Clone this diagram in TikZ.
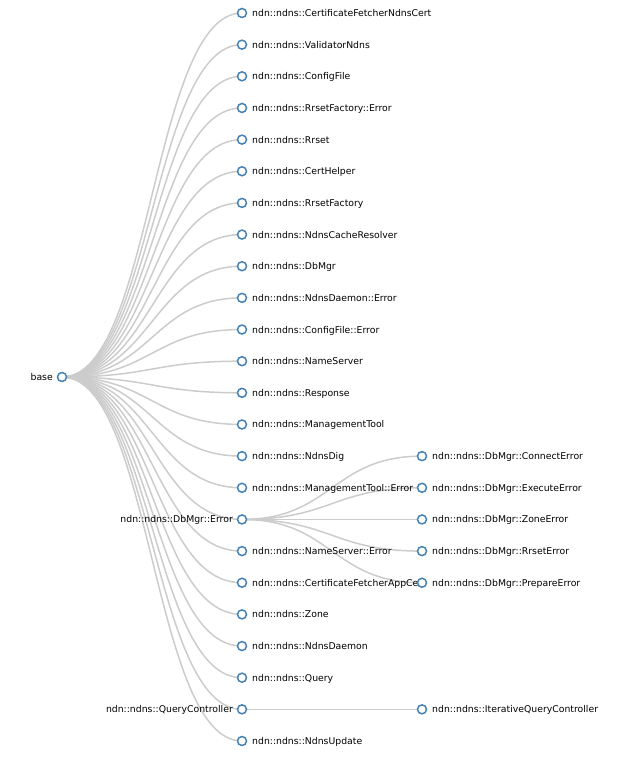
\documentclass[tikz,border=0pt]{standalone}
\usepackage{fontspec}
\setmainfont{DejaVu Sans}
\usetikzlibrary{calc,backgrounds}
\definecolor{steel}{RGB}{70,130,180}
\definecolor{linkgray}{RGB}{204,204,204}
\tikzset{
  dot/.style={circle, draw=steel, fill=white, line width=1.5pt, minimum size=9pt, inner sep=0pt},
  lbl/.style={inner sep=0pt, font=\fontsize{9.3}{11}\selectfont, text=black},
  linkstyle/.style={draw=linkgray, line width=1.5pt}
}
\newcommand\tlink[2]{\draw[linkstyle] let \p1=(#1.center), \p2=(#2.center) in (\p1) .. controls ({(\x1+\x2)/2},\y1) and ({(\x1+\x2)/2},\y2) .. (\p2);}
\newcommand\rnode[4]{\node[dot] (#1) at (#2,#3) {}; \node[lbl, anchor=base west] (#1t) at ($(#1.center)+(10,3.5)$) {#4};}
\newcommand\lnode[4]{\node[dot] (#1) at (#2,#3) {}; \node[lbl, anchor=base east] (#1t) at ($(#1.center)+(-9,3.5)$) {#4};}
\begin{document}
\begin{tikzpicture}[x=1pt, y=-1pt]
\useasboundingbox (0,0) rectangle (643,765);
% nodes
\lnode{nb}{62}{377}{base}
\rnode{n0}{242}{13}{ndn::ndns::CertificateFetcherNdnsCert}
\rnode{n1}{242}{44.652}{ndn::ndns::ValidatorNdns}
\rnode{n2}{242}{76.304}{ndn::ndns::ConfigFile}
\rnode{n3}{242}{107.956}{ndn::ndns::RrsetFactory::Error}
\rnode{n4}{242}{139.608}{ndn::ndns::Rrset}
\rnode{n5}{242}{171.26}{ndn::ndns::CertHelper}
\rnode{n6}{242}{202.912}{ndn::ndns::RrsetFactory}
\rnode{n7}{242}{234.564}{ndn::ndns::NdnsCacheResolver}
\rnode{n8}{242}{266.216}{ndn::ndns::DbMgr}
\rnode{n9}{242}{297.868}{ndn::ndns::NdnsDaemon::Error}
\rnode{n10}{242}{329.52}{ndn::ndns::ConfigFile::Error}
\rnode{n11}{242}{361.172}{ndn::ndns::NameServer}
\rnode{n12}{242}{392.824}{ndn::ndns::Response}
\rnode{n13}{242}{424.476}{ndn::ndns::ManagementTool}
\rnode{n14}{242}{456.128}{ndn::ndns::NdnsDig}
\rnode{n15}{242}{487.78}{ndn::ndns::ManagementTool::Error}
\lnode{n16}{242}{519.432}{ndn::ndns::DbMgr::Error}
\rnode{n17}{242}{551.084}{ndn::ndns::NameServer::Error}
\rnode{n18}{242}{582.736}{ndn::ndns::CertificateFetcherAppCert}
\rnode{n19}{242}{614.388}{ndn::ndns::Zone}
\rnode{n20}{242}{646.04}{ndn::ndns::NdnsDaemon}
\rnode{n21}{242}{677.692}{ndn::ndns::Query}
\lnode{n22}{242}{709.344}{ndn::ndns::QueryController}
\rnode{n23}{242}{740.996}{ndn::ndns::NdnsUpdate}
\rnode{m0}{422}{456.128}{ndn::ndns::DbMgr::ConnectError}
\rnode{m1}{422}{487.78}{ndn::ndns::DbMgr::ExecuteError}
\rnode{m2}{422}{519.432}{ndn::ndns::DbMgr::ZoneError}
\rnode{m3}{422}{551.084}{ndn::ndns::DbMgr::RrsetError}
\rnode{m4}{422}{582.736}{ndn::ndns::DbMgr::PrepareError}
\rnode{m5}{422}{709.344}{ndn::ndns::IterativeQueryController}
% links
\begin{scope}[on background layer]
\foreach \i in {0,...,23} { \tlink{nb}{n\i} }
\foreach \i in {0,...,4} { \tlink{n16}{m\i} }
\tlink{n22}{m5}
\end{scope}
\end{tikzpicture}
\end{document}
